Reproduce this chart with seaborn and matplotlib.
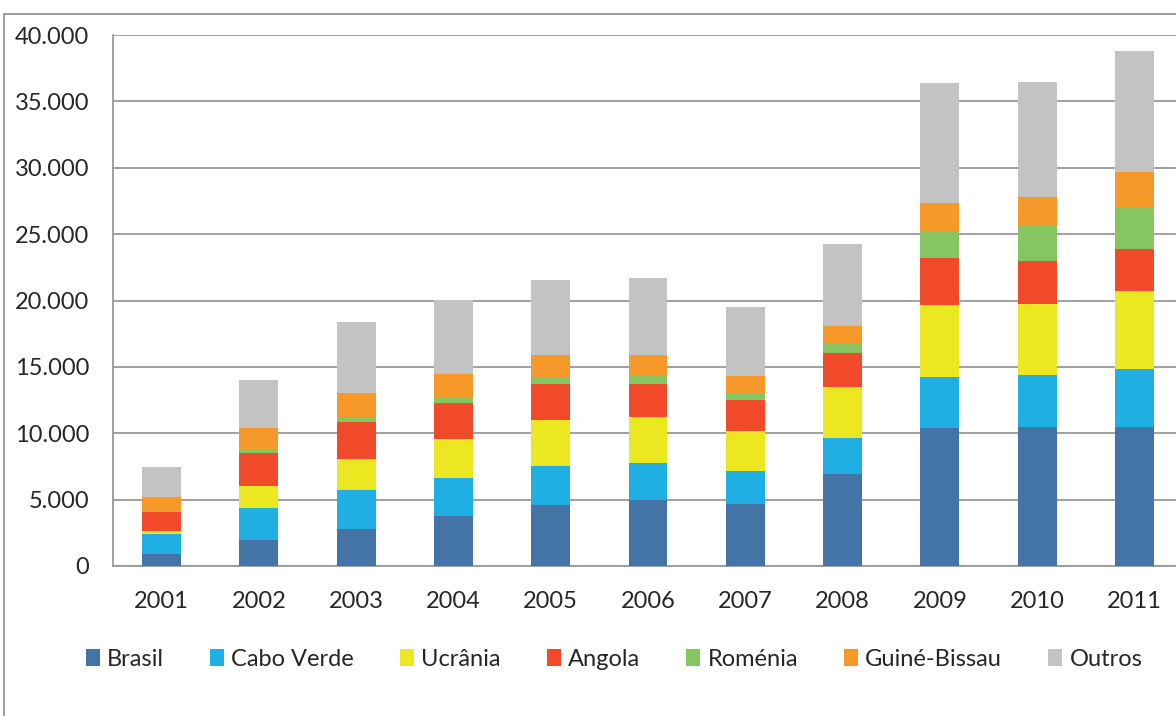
import pandas as pd
import matplotlib
matplotlib.use('Agg')
import matplotlib.pyplot as plt
import seaborn as sbn
from matplotlib.patches import Patch, Rectangle
from matplotlib.ticker import FuncFormatter, FixedLocator

# Values
years = ['2001', '2002', '2003', '2004', '2005', '2006', '2007', '2008', '2009', '2010', '2011']
brasil = [930, 1980, 2760, 3770, 4620, 4970, 4690, 6930, 10400, 10490, 10450]
cabo_verde = [1480, 2410, 2960, 2880, 2890, 2770, 2470, 2710, 3810, 3900, 4370]
ucrania = [250, 1640, 2310, 2920, 3470, 3480, 2990, 3820, 5450, 5350, 5900]
angola = [1430, 2510, 2820, 2730, 2750, 2510, 2350, 2560, 3520, 3240, 3140]
romenia = [60, 200, 270, 380, 480, 610, 530, 730, 2030, 2630, 3210]
guine_bissau = [1050, 1680, 1910, 1780, 1660, 1550, 1310, 1350, 2160, 2190, 2590]
outros = [2230, 3590, 5350, 5580, 5670, 5780, 5190, 6130, 9040, 8680, 9140]

series = ['Brasil', 'Cabo Verde', 'Ucrânia', 'Angola', 'Roménia', 'Guiné-Bissau', 'Outros']
colors = ['#4474a5', '#1fafe3', '#ebe720', '#f04a2a', '#87c563', '#f7982b', '#c2c3c2']

df = pd.DataFrame({'Ano': years, 'Brasil': brasil, 'Cabo Verde': cabo_verde,
                   'Ucrânia': ucrania, 'Angola': angola, 'Roménia': romenia,
                   'Guiné-Bissau': guine_bissau, 'Outros': outros})
cum = df[series].cumsum(axis=1)
cum['Ano'] = df['Ano']

sbn.set_style('white')
plt.rcParams['font.family'] = ['Lato', 'DejaVu Sans']

W, H = 1176, 716
fig = plt.figure(figsize=(W / 100, H / 100), dpi=100)
ax = fig.add_axes([113 / W, 150 / H, 1070 / W, 531 / H])

# gray chart frame
fig.patches.append(Rectangle((4 / W, -0.1), 1.2, 1 - 14 / H + 0.1, transform=fig.transFigure,
                             fill=False, edgecolor='#8c8c8c', linewidth=1.2, zorder=0))

# stacked bars: draw cumulative totals from top series down
for name, col in reversed(list(zip(series, colors))):
    sbn.barplot(data=cum, x='Ano', y=name, color=col, width=0.4, linewidth=0,
                saturation=1, ax=ax, zorder=3)

ax.set_ylim(0, 40000)
ax.set_xlim(-0.5, 10.5)
ax.set_yticks(range(0, 40001, 5000))
ax.yaxis.set_major_formatter(FuncFormatter(lambda v, p: f'{int(v):,}'.replace(',', '.')))
ax.grid(axis='y', color='#999999', linewidth=1.3, zorder=0)
ax.set_axisbelow(True)
for s in ['top', 'right']:
    ax.spines[s].set_visible(False)
for s in ['left', 'bottom']:
    ax.spines[s].set_color('#999999')
    ax.spines[s].set_linewidth(1.3)
ax.xaxis.set_minor_locator(FixedLocator([i - 0.5 for i in range(12)]))
ax.tick_params(axis='x', which='major', length=0, pad=18, labelsize=17)
ax.tick_params(axis='x', which='minor', length=6, width=1.3, color='#999999', direction='out')
ax.tick_params(axis='y', length=6, width=1.3, color='#999999', direction='out', pad=11, labelsize=17)
ax.set_xlabel('')
ax.set_ylabel('')

handles = [Patch(facecolor=c, edgecolor='none', label=n) for n, c in zip(series, colors)]
fig.legend(handles=handles, loc='center', bbox_to_anchor=(614 / W, 1 - 659 / H), ncol=7,
           frameon=False, fontsize=17, handlelength=0.6, handleheight=0.75,
           handletextpad=0.3, columnspacing=1.95)

fig.savefig('out.png', dpi=100)
